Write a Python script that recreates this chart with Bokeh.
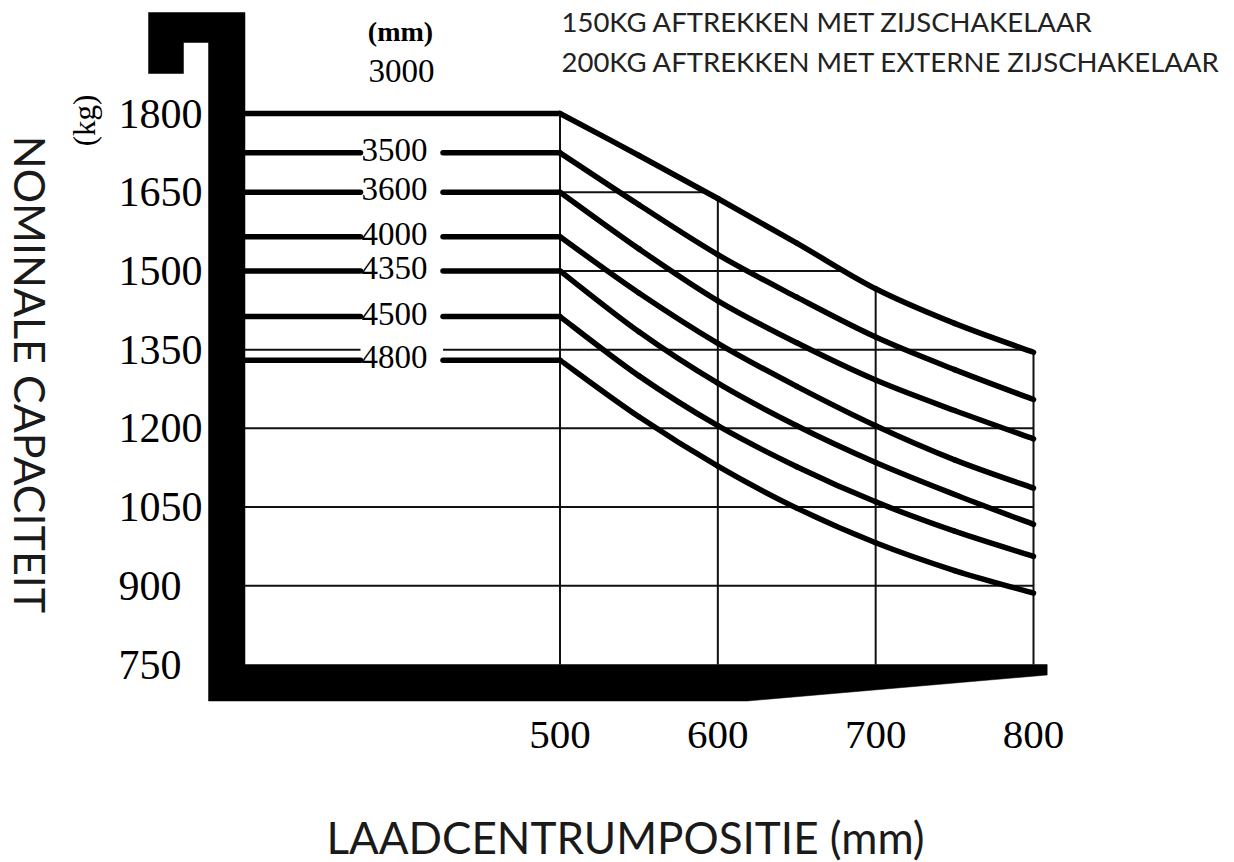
import numpy as np
from bokeh.plotting import figure
from bokeh.models import Range1d
from bokeh.core.properties import value
from bokeh.embed import file_html
from bokeh.resources import INLINE

# ---------------- data ----------------
load_centre_mm = [500, 550, 600, 650, 700, 750, 800]
lift_heights = ["3000", "3500", "3600", "4000", "4350", "4500", "4800"]
cap_3000 = [1800, 1720, 1638, 1553, 1466, 1400, 1345]
cap_3500 = [1725, 1626, 1531, 1450, 1374, 1312, 1255]
cap_3600 = [1650, 1542, 1443, 1363, 1292, 1234, 1180]
cap_4000 = [1565, 1458, 1362, 1280, 1205, 1140, 1086]
cap_4350 = [1500, 1384, 1286, 1205, 1135, 1074, 1017]
cap_4500 = [1413, 1300, 1205, 1127, 1060, 1004, 956]
cap_4800 = [1330, 1222, 1128, 1048, 982, 929, 886]
x_ticks = [500, 600, 700, 800]
y_ticks = [750, 900, 1050, 1200, 1350, 1500, 1650, 1800]
grid_y = [900, 1050, 1200, 1350, 1500, 1650]
x_origin = 300      # load-centre value at the inner edge of the vertical bar
y_origin = 750      # capacity value at the inner edge of the horizontal bar

series = [cap_3000, cap_3500, cap_3600, cap_4000, cap_4350, cap_4500, cap_4800]

# ---------------- layout helpers (page px -> data) ----------------
W, H = 1234, 862
M = 0                  # bokeh's page template has no body margin
XS = 473.5 / 300.0     # px per mm
YS = 551.0 / 1050.0    # px per kg


def dx(px):
    return 500 + (px - 559.5) / XS


def dy(py):
    return 1800 - (py - 113) / YS


p = figure(width=W, height=H,
           x_range=Range1d(dx(M), dx(M + W)),
           y_range=Range1d(dy(M + H), dy(M)),
           output_backend="svg", toolbar_location=None, min_border=0,
           x_axis_location=None, y_axis_location=None,
           outline_line_color=None, background_fill_color="white",
           border_fill_color="white")
p.xgrid.visible = False
p.ygrid.visible = False

GRID_C = "#111111"
INK = "#000000"
LW = 5.5

# ---------------- grid (clipped below the top curve) ----------------
top = np.array(cap_3000, dtype=float)
xc = np.array(load_centre_mm, dtype=float)
h_x0, h_x1, h_y = [], [], []
for g in grid_y:
    xe = float(np.interp(g, top[::-1], xc[::-1]))
    h_x0.append(x_origin)
    h_x1.append(min(800.0, xe))
    h_y.append(g)
p.segment(x0=h_x0, y0=h_y, x1=h_x1, y1=h_y, line_color=GRID_C, line_width=2)

v_top = [float(np.interp(t, xc, top)) for t in x_ticks]
p.segment(x0=x_ticks, y0=[y_origin] * len(x_ticks), x1=x_ticks, y1=v_top,
          line_color=GRID_C, line_width=2)

# ---------------- label backgrounds (break the grid at labels) ----------------
GAP_L, GAP_R = dx(360), dx(442.5)
LABEL_X = dx(394)
half = 16 / YS
lab_y = [s[0] for s in series[1:]]
p.quad(left=[GAP_L] * len(lab_y), right=[GAP_R] * len(lab_y),
       bottom=[v - half for v in lab_y], top=[v + half for v in lab_y],
       fill_color="white", line_color=None)

# ---------------- capacity curves ----------------
# flat part (constant capacity up to 500 mm)
xs, ys = [], []
for name, cap in zip(lift_heights, series):
    if name == "3000":
        xs.append([x_origin, load_centre_mm[0]])
        ys.append([cap[0], cap[0]])
    else:
        xs.append([x_origin, GAP_L])
        ys.append([cap[0], cap[0]])
        xs.append([GAP_R, load_centre_mm[0]])
        ys.append([cap[0], cap[0]])
p.multi_line(xs=xs, ys=ys, line_color=INK, line_width=LW,
             line_cap="round", line_join="round")

# decreasing part: smooth curve through the read points (Catmull-Rom -> Bezier)
bx0, by0, bx1, by1, bcx0, bcy0, bcx1, bcy1 = ([] for _ in range(8))
for cap in series:
    P = list(zip(load_centre_mm, cap))
    n = len(P)
    for i in range(n - 1):
        p0 = P[i - 1] if i > 0 else P[i]
        p1, p2 = P[i], P[i + 1]
        p3 = P[i + 2] if i + 2 < n else P[i + 1]
        bx0.append(p1[0]); by0.append(p1[1])
        bx1.append(p2[0]); by1.append(p2[1])
        bcx0.append(p1[0] + (p2[0] - p0[0]) / 6.0)
        bcy0.append(p1[1] + (p2[1] - p0[1]) / 6.0)
        bcx1.append(p2[0] - (p3[0] - p1[0]) / 6.0)
        bcy1.append(p2[1] - (p3[1] - p1[1]) / 6.0)
p.bezier(x0=bx0, y0=by0, x1=bx1, y1=by1, cx0=bcx0, cy0=bcy0, cx1=bcx1, cy1=bcy1,
         line_color=INK, line_width=LW, line_cap="round")

# ---------------- heavy black frame (fork shape) ----------------
frame_x = [dx(148), dx(244.5), dx(244.5), dx(1046.7), dx(1046.7), dx(746.7),
           dx(208), dx(208), dx(183), dx(183), dx(148)]
frame_y = [dy(12), dy(12), dy(664), dy(664), dy(674.5), dy(700.5),
           dy(700.5), dy(42), dy(42), dy(73), dy(73)]
p.patch(frame_x, frame_y, fill_color=INK, line_color=INK, line_width=0.5)

# ---------------- texts ----------------
SERIF = value("Liberation Serif")
SANS = value("Lato")

# y tick labels
p.text(x=[dx(118)] * len(y_ticks), y=y_ticks, text=[str(v) for v in y_ticks],
       text_font=SERIF, text_font_size="42px", text_align="left",
       text_baseline="middle", text_color=INK)
# x tick labels
p.text(x=x_ticks, y=[dy(734)] * len(x_ticks), text=[str(v) for v in x_ticks],
       text_font=SERIF, text_font_size="41px", text_align="center",
       text_baseline="middle", text_color=INK)
# series labels in the gap
p.text(x=[LABEL_X] * len(lab_y), y=lab_y, text=lift_heights[1:], y_offset=-3,
       text_font=SERIF, text_font_size="33px", text_align="center",
       text_baseline="middle", text_color=INK)
# 3000 label and unit above
p.text(x=[dx(401)], y=[dy(70)], text=[lift_heights[0]],
       text_font=SERIF, text_font_size="33px", text_align="center",
       text_baseline="middle", text_color=INK)
p.text(x=[dx(400)], y=[dy(31)], text=["(mm)"],
       text_font=SERIF, text_font_size="28px", text_font_style="bold",
       text_align="center", text_baseline="middle", text_color=INK)
# (kg) unit, rotated
p.text(x=[dx(84)], y=[dy(120)], text=["(kg)"], angle=[np.pi / 2],
       text_font=SERIF, text_font_size="31px", text_align="center",
       text_baseline="middle", text_color=INK)
# axis titles
p.text(x=[dx(30)], y=[dy(374)], text=["NOMINALE CAPACITEIT"], angle=[-np.pi / 2],
       text_font=SANS, text_font_size="43px", text_align="center",
       text_baseline="middle", text_color="#1a1a1a")
p.text(x=[dx(625)], y=[dy(836)], text=["LAADCENTRUMPOSITIE (mm)"],
       text_font=SANS, text_font_size="44px", text_align="center",
       text_baseline="middle", text_color="#1a1a1a")
# notes top right
p.text(x=[dx(561), dx(561)], y=[dy(21), dy(61)],
       text=["150KG AFTREKKEN MET ZIJSCHAKELAAR",
             "200KG AFTREKKEN MET EXTERNE ZIJSCHAKELAAR"],
       text_font=SANS, text_font_size="27.5px", text_align="left",
       text_baseline="middle", text_color="#222222")

open("out.html", "w").write(file_html(p, INLINE))
